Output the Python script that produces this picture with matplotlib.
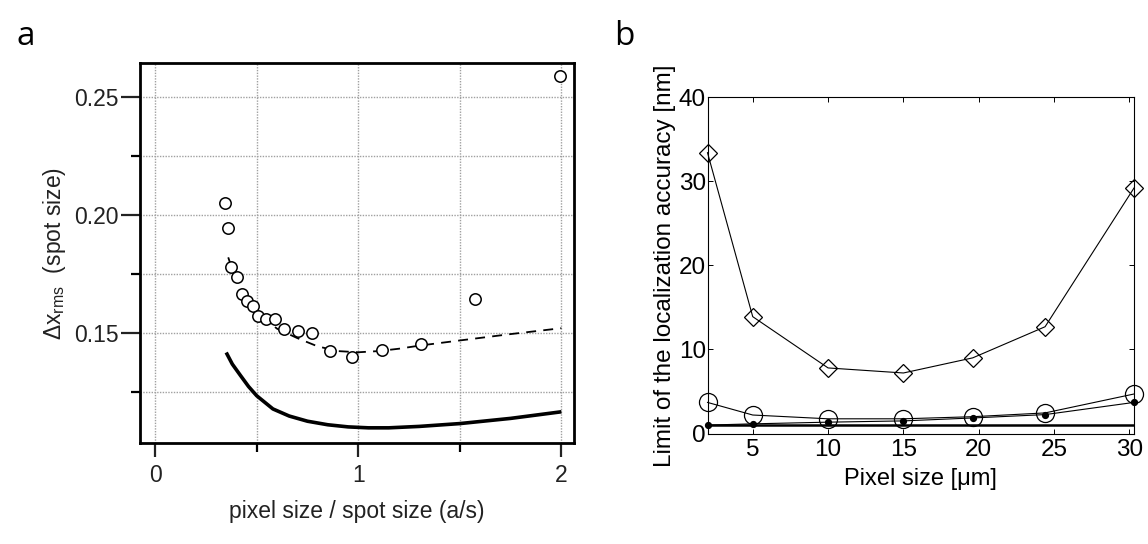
import numpy as np
import matplotlib.pyplot as plt
from matplotlib.ticker import MultipleLocator

plt.rcParams['font.family'] = ['Liberation Sans', 'DejaVu Sans']
plt.rcParams['mathtext.fontset'] = 'custom'
plt.rcParams['mathtext.rm'] = 'Liberation Sans'

# panel a: rms localization error vs pixel size / spot size
ratio_meas = [0.344, 0.357, 0.375, 0.405, 0.43, 0.451, 0.48, 0.508, 0.546, 0.59,
              0.634, 0.702, 0.77, 0.862, 0.969, 1.115, 1.307, 1.574, 1.995]
dx_meas = [0.2054, 0.1945, 0.178, 0.174, 0.1666, 0.1639, 0.1618, 0.1574, 0.156, 0.156,
           0.1518, 0.1508, 0.150, 0.1424, 0.1402, 0.1431, 0.1455, 0.1645, 0.259]

ratio_fit = [0.36, 0.38, 0.40, 0.45, 0.5, 0.6, 0.7, 0.8, 0.9, 1.0, 1.1, 1.2, 1.3, 1.5, 1.75, 2.0]
dx_fit = [0.1822, 0.177, 0.173, 0.165, 0.159, 0.152, 0.148, 0.1445, 0.1425, 0.142,
          0.1425, 0.1435, 0.1448, 0.147, 0.1497, 0.1522]

ratio_lim = [0.35, 0.38, 0.42, 0.46, 0.5, 0.58, 0.66, 0.75, 0.85, 0.95, 1.05, 1.15,
             1.3, 1.5, 1.75, 2.0]
dx_lim = [0.1419, 0.137, 0.1322, 0.1275, 0.1236, 0.118, 0.115, 0.1128, 0.1113, 0.1104,
          0.110, 0.110, 0.1106, 0.1118, 0.114, 0.1168]

# panel b: limit of localization accuracy vs pixel size
pixel_um = [2, 5, 10, 15, 19.6, 24.4, 30.3]
acc_diamond = [33.4, 13.9, 7.8, 7.2, 9.0, 12.7, 29.2]
acc_circle = [3.7, 2.2, 1.75, 1.75, 2.0, 2.45, 4.7]
acc_dot = [1.0, 1.15, 1.35, 1.5, 1.85, 2.25, 3.7]
acc_floor = 1.0

fig = plt.figure(figsize=(11.48, 5.44), dpi=100)

# ---- panel a
ax1 = fig.add_axes([0.122, 0.1862, 0.378, 0.6971])
ax1.plot(ratio_lim, dx_lim, color='black', lw=2.6, solid_capstyle='butt', zorder=3)
ax1.plot(ratio_fit, dx_fit, color='black', lw=1.3, linestyle=(0, (5.5, 4)), zorder=3)
ax1.plot(ratio_meas, dx_meas, 'o', ms=8.2, mfc='white', mec='black', mew=1.1,
         linestyle='none', zorder=4, clip_on=False)

ax1.set_xlim(-0.074, 2.062)
ax1.set_ylim(0.1037, 0.2643)
ax1.xaxis.set_major_locator(MultipleLocator(1))
ax1.xaxis.set_minor_locator(MultipleLocator(0.5))
ax1.set_yticks([0.15, 0.20, 0.25])
ax1.set_yticklabels(['0.15', '0.20', '0.25'])
ax1.set_yticks([0.125, 0.175, 0.225], minor=True)
ax1.grid(which='both', color='#a0a0a0', linestyle=(0, (1, 1)), lw=1.0)
ax1.set_axisbelow(True)
for s in ax1.spines.values():
    s.set_linewidth(2.0)
ax1.tick_params(axis='y', which='major', direction='out', length=14, width=1.6,
                labelsize=16.5, pad=1.5, colors='#222222')
ax1.tick_params(axis='y', which='minor', direction='out', length=6.5, width=1.6)
ax1.tick_params(axis='x', which='major', direction='out', length=10, width=1.6,
                labelsize=16.5, pad=5, colors='#222222')
ax1.tick_params(axis='x', which='minor', direction='out', length=6.5, width=1.6)
ax1.set_xlabel('pixel size / spot size (a/s)', fontsize=16.5, color='#222222', labelpad=10)
ax1.set_ylabel(r'Δx$_{\mathregular{rms}}$  (spot size)', fontsize=16.5, color='#222222',
               labelpad=4)

# ---- panel b
ax2 = fig.add_axes([0.6163, 0.2031, 0.3715, 0.6182])
ax2.axhline(acc_floor, color='black', lw=1.8, zorder=2)
ax2.plot(pixel_um, acc_diamond, color='black', lw=0.8, marker='D', ms=9.5,
         mfc='none', mec='black', mew=0.9, clip_on=False, zorder=3)
ax2.plot(pixel_um, acc_circle, color='black', lw=0.8, marker='o', ms=13,
         mfc='none', mec='black', mew=0.9, clip_on=False, zorder=3)
ax2.plot(pixel_um, acc_dot, color='black', lw=0.8, marker='o', ms=4.2,
         mfc='black', mec='black', clip_on=False, zorder=3)

ax2.set_xlim(2, 30.3)
ax2.set_ylim(0, 40)
ax2.set_xticks([5, 10, 15, 20, 25, 30])
ax2.set_yticks([0, 10, 20, 30, 40])
for s in ax2.spines.values():
    s.set_linewidth(0.8)
ax2.tick_params(direction='in', length=3.5, width=0.7, top=True, right=True,
                labelsize=17.5, pad=4)
ax2.tick_params(axis='y', pad=1)
ax2.set_xlabel('Pixel size [μm]', fontsize=17, labelpad=5)
ax2.set_ylabel('Limit of the localization accuracy [nm]', fontsize=17.5, labelpad=2)

# panel letters
fig.text(16 / 1148, 1 - 45 / 544, 'a', fontsize=24, family=['Open Sans', 'DejaVu Sans'],
         ha='left', va='baseline')
fig.text(614 / 1148, 1 - 45 / 544, 'b', fontsize=24, family=['Open Sans', 'DejaVu Sans'],
         ha='left', va='baseline')

fig.savefig('out.png', dpi=100)
